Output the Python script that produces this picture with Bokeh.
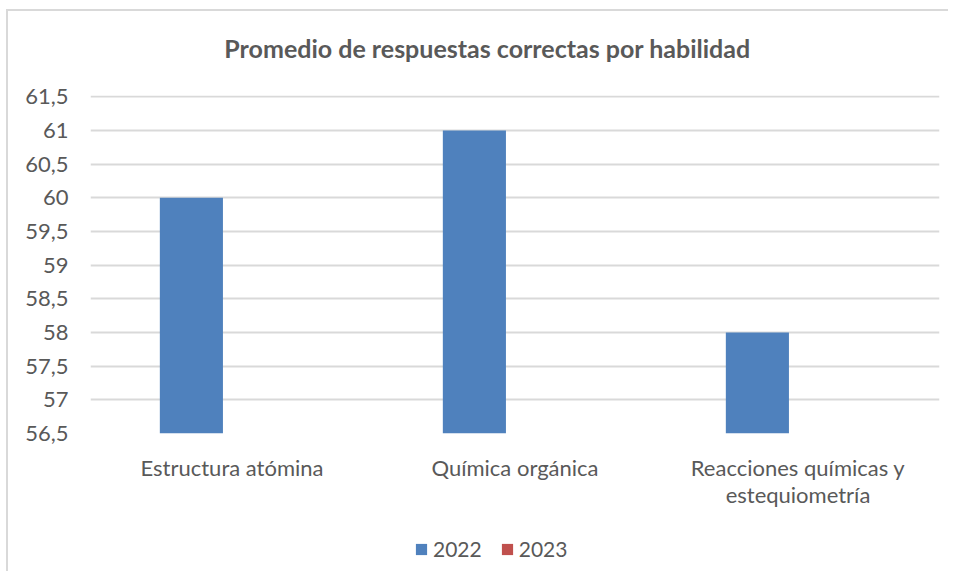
from bokeh.plotting import figure
from bokeh.layouts import column
from bokeh.models import (ColumnDataSource, FactorRange, FixedTicker, CustomJSTickFormatter,
                          Legend, LegendItem, Label)
from bokeh.transform import dodge
from bokeh.embed import file_html
from bokeh.resources import INLINE

title_text = "Promedio de respuestas correctas por habilidad"
categories = ["Estructura atómina", "Química orgánica", "Reacciones químicas y\nestequiometría"]
values_2022 = [60, 61, 58]
values_2023 = [float("nan"), float("nan"), float("nan")]
series_names = ["2022", "2023"]
series_colors = ["#4f81bd", "#c0504d"]
y_ticks = [56.5, 57, 57.5, 58, 58.5, 59, 59.5, 60, 60.5, 61, 61.5]

FONT = "Lato"
GRAY = "#595959"

# ---- title strip (frame aligned with the chart's frame) ----
tfig = figure(width=940, height=65, x_range=(0, 1), y_range=(0, 1), min_border=0,
              toolbar_location=None, output_backend="svg",
              x_axis_location=None, y_axis_location=None)
tfig.grid.visible = False
tfig.outline_line_color = None
tfig.add_layout(Label(x=0.4676, y=0.431, text=title_text, text_align="center",
                      text_baseline="middle", text_font=FONT, text_font_size="25px",
                      text_font_style="bold", text_color=GRAY))

# ---- chart ----
src = ColumnDataSource(dict(cat=categories, v22=values_2022, v23=values_2023))

p = figure(x_range=FactorRange(*categories, range_padding=0), y_range=(56.5, 61.52),
           width=940, height=435, output_backend="svg", toolbar_location=None,
           min_border_left=82, min_border_right=9, min_border_top=19, min_border_bottom=77)

BAR_W = 0.223
p.vbar(x=dodge("cat", -0.1435, range=p.x_range), top="v22", bottom=56.5, width=BAR_W,
       source=src, color=series_colors[0], line_color=None)
p.vbar(x=dodge("cat", -0.1435 + BAR_W, range=p.x_range), top="v23", bottom=56.5, width=BAR_W,
       source=src, color=series_colors[1], line_color=None)

p.yaxis.ticker = FixedTicker(ticks=y_ticks)
p.yaxis.formatter = CustomJSTickFormatter(code="return tick.toString().replace('.', ',');")
for ax in (p.xaxis[0], p.yaxis[0]):
    ax.axis_line_color = None
    ax.major_tick_line_color = None
    ax.minor_tick_line_color = None
    ax.major_label_text_font = FONT
    ax.major_label_text_color = GRAY
    ax.major_label_text_font_size = "22px"
p.yaxis.major_label_standoff = 16
p.xaxis.major_label_standoff = 14
p.xaxis.major_label_text_line_height = 1.03

p.xgrid.grid_line_color = None
p.ygrid.grid_line_color = "#d9d9d9"
p.ygrid.grid_line_width = 2
p.outline_line_color = None

# ---- legend strip ----
leg = figure(width=940, height=60, x_range=(0, 1), y_range=(0, 1), min_border=0,
             toolbar_location=None, output_backend="svg",
             x_axis_location=None, y_axis_location=None)
leg.grid.visible = False
leg.outline_line_color = None
lr1 = leg.vbar(x=[0.5], top=[0], width=0.1, color=series_colors[0], line_color=None)
lr2 = leg.vbar(x=[0.5], top=[0], width=0.1, color=series_colors[1], line_color=None)
legend = Legend(items=[LegendItem(label=series_names[0], renderers=[lr1]),
                       LegendItem(label=series_names[1], renderers=[lr2])],
                orientation="horizontal", location=(324, 10),
                label_text_font=FONT, label_text_font_size="21px", label_text_color=GRAY,
                glyph_width=14, glyph_height=14, label_standoff=5, spacing=18,
                border_line_color=None, background_fill_alpha=0, margin=0, padding=0)
leg.add_layout(legend, "center")

layout = column(tfig, p, leg, spacing=0,
                styles={"margin-left": "6px", "margin-top": "9px",
                        "border-left": "2px solid #d9d9d9", "border-top": "2px solid #d9d9d9"})

open("out.html", "w").write(file_html(layout, INLINE))
